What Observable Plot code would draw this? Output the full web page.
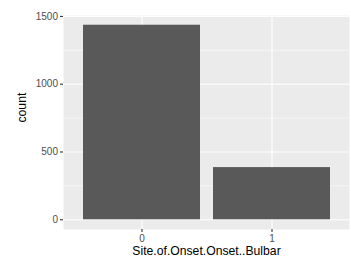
<!DOCTYPE html>
<html>
<head>
<meta charset="utf-8">
<script src="https://cdn.jsdelivr.net/npm/d3@7"></script>
<script src="https://cdn.jsdelivr.net/npm/@observablehq/plot@0.6"></script>
<style>
  html, body { margin: 0; padding: 0; background: #fff; }
  #chart svg { display: block; }
</style>
</head>
<body>
<div id="chart"></div>
<script>
const categories = ["0", "1"];
const counts = [1435, 385];
const yMajor = [0, 500, 1000, 1500];
const yMinor = [250, 750, 1250];
const xTitle = "Site.of.Onset.Onset..Bulbar";
const yTitle = "count";

const data = categories.map((c, i) => ({cat: c, count: counts[i]}));
const maxC = d3.max(counts);
const font = "Liberation Sans, Arial, Helvetica, sans-serif";

const chart = Plot.plot({
  width: 351,
  height: 260,
  marginLeft: 63,
  marginRight: 2,
  marginTop: 15,
  marginBottom: 31,
  style: {fontFamily: font, background: "#fff", overflow: "visible"},
  x: {domain: categories, paddingInner: 0.1, paddingOuter: 0.15, axis: null},
  y: {domain: [-0.05 * maxC, 1.05 * maxC], axis: null},
  marks: [
    Plot.frame({fill: "#EBEBEB", stroke: null}),
    Plot.ruleY(yMinor, {stroke: "#fff", strokeWidth: 0.55}),
    Plot.ruleY(yMajor, {stroke: "#fff", strokeWidth: 1.1}),
    Plot.ruleX(categories, {x: d => d, stroke: "#fff", strokeWidth: 1.1}),
    Plot.barY(data, {x: "cat", y: "count", fill: "#595959"}),
    Plot.axisY(yMajor, {tickSize: 3, tickPadding: 2.5, tickFormat: d3.format("d"), fontSize: 10, stroke: "#333333", fill: "#4D4D4D", label: null, strokeWidth: 1.1}),
    Plot.axisX(categories, {tickSize: 3, tickPadding: 2, fontSize: 10, stroke: "#333333", fill: "#4D4D4D", label: null, strokeWidth: 1.1}),
    Plot.text([xTitle], {frameAnchor: "bottom", dy: 25, fontSize: 12.2, fill: "#000"}),
    Plot.text([yTitle], {frameAnchor: "left", dx: -41, rotate: -90, fontSize: 12.2, fill: "#000"})
  ]
});
document.getElementById("chart").appendChild(chart);
</script>
</body>
</html>
